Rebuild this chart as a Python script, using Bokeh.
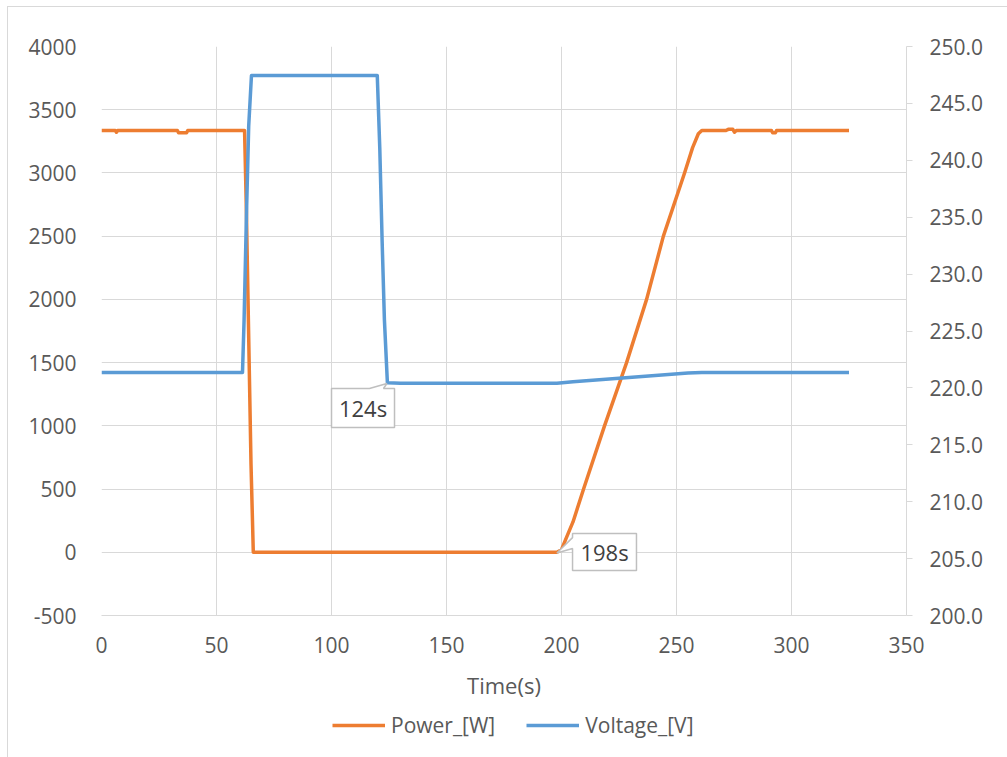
from bokeh.plotting import figure
from bokeh.layouts import column
from bokeh.models import (LinearAxis, Range1d, Legend, LegendItem, FixedTicker,
                          NumeralTickFormatter)
from bokeh.core.properties import value
from bokeh.embed import file_html
from bokeh.resources import INLINE

# ---- data ----
power_t = [0, 6, 6.5, 7, 33, 33.5, 37, 37.5, 62.2, 63, 64, 65, 66, 198, 200, 202, 205,
           209.6, 218.7, 228.3, 237, 244.3, 253.5, 257, 259.5, 261, 271.5, 272.5, 274.5,
           275.2, 276, 291.3, 291.8, 293, 293.5, 325]
power_w = [3336, 3336, 3322, 3336, 3336, 3318, 3318, 3336, 3336, 2700, 1700, 700, 0, 0, 20, 110, 240,
           500, 1000, 1500, 2000, 2500, 3000, 3200, 3310, 3336, 3336, 3345, 3345,
           3322, 3336, 3336, 3318, 3318, 3336, 3336]

volt_t = [0, 61.3, 62, 63, 64, 65.2, 119.9, 121, 122, 123, 124.3, 130, 198, 205, 215,
          225, 235, 245, 255, 261, 325]
volt_v = [221.35, 221.35, 226, 235, 243, 247.45, 247.45, 241, 233, 226, 220.45, 220.4,
          220.4, 220.55, 220.7, 220.85, 221.0, 221.15, 221.3, 221.35, 221.35]

x_ticks = [0, 50, 100, 150, 200, 250, 300, 350]
left_ticks = [-500, 0, 500, 1000, 1500, 2000, 2500, 3000, 3500, 4000]
right_ticks = [200, 205, 210, 215, 220, 225, 230, 235, 240, 245, 250]

series_names = ["Power_[W]", "Voltage_[V]"]

# callouts: label, box (left, right, top, bottom) in data units
callout_labels = ["124s", "198s"]
callout_box_l = [100.0, 204.8]
callout_box_r = [127.4, 232.6]
callout_box_t = [1295, 148]
callout_box_b = [987, -144]

FONT = "Open Sans"
TXT = "#595959"
GRID = "#d9d9d9"
ORANGE = "#ED7D31"
BLUE = "#5B9BD5"

p = figure(width=1000, height=700, output_backend="svg", toolbar_location=None,
           x_range=Range1d(0, 350), y_range=Range1d(-500, 4000),
           min_border_left=93, min_border_right=102, min_border_top=39,
           min_border_bottom=92)
p.outline_line_color = None
p.background_fill_color = "white"
p.border_fill_color = "white"

p.extra_y_ranges = {"v": Range1d(200, 250)}

p.xgrid.ticker = FixedTicker(ticks=x_ticks)
p.ygrid.ticker = FixedTicker(ticks=left_ticks)
p.xgrid.grid_line_color = GRID
p.ygrid.grid_line_color = GRID

# bottom axis
xa = p.xaxis[0]
xa.ticker = FixedTicker(ticks=x_ticks)
xa.axis_line_color = GRID
xa.major_tick_line_color = None
xa.minor_tick_line_color = None
xa.major_label_standoff = 15
xa.axis_label = "Time(s)"
xa.axis_label_standoff = 14
xa.axis_label_text_font = FONT
xa.axis_label_text_font_size = "22px"
xa.axis_label_text_font_style = "normal"
xa.axis_label_text_color = TXT

# left axis
ya = p.yaxis[0]
ya.ticker = FixedTicker(ticks=left_ticks)
ya.formatter = NumeralTickFormatter(format="0")
ya.axis_line_color = None
ya.major_tick_line_color = None
ya.minor_tick_line_color = None
ya.major_label_standoff = 19

# right axis
ra = LinearAxis(y_range_name="v", ticker=FixedTicker(ticks=right_ticks),
                formatter=NumeralTickFormatter(format="0.0"))
ra.axis_line_color = GRID
ra.major_tick_line_color = GRID
ra.major_tick_out = 6
ra.major_tick_in = 0
ra.minor_tick_line_color = None
ra.major_label_standoff = 17
p.add_layout(ra, "right")

for ax in (xa, ya, ra):
    ax.major_label_text_font = FONT
    ax.major_label_text_font_size = "21px"
    ax.major_label_text_color = TXT

p.line(power_t, power_w, line_color=ORANGE, line_width=3.5, line_join="round")
p.line(volt_t, volt_v, line_color=BLUE, line_width=3.5, line_join="round",
       y_range_name="v")

# callouts
c1x = [callout_box_l[0], 116.5, volt_t[10] - 0.2, 122.6, callout_box_r[0], callout_box_r[0], callout_box_l[0]]
c1y = [callout_box_t[0], callout_box_t[0], 1335, callout_box_t[0], callout_box_t[0], callout_box_b[0], callout_box_b[0]]
c2x = [callout_box_l[1], callout_box_r[1], callout_box_r[1], callout_box_l[1], callout_box_l[1], power_t[13], callout_box_l[1]]
c2y = [callout_box_t[1], callout_box_t[1], callout_box_b[1], callout_box_b[1], 30, -6, 116]
p.patches([c1x, c2x], [c1y, c2y], fill_color="white", line_color="#bfbfbf", line_width=1.5)
p.text(x=[(l + r) / 2 for l, r in zip(callout_box_l, callout_box_r)],
       y=[(t + b) / 2 for t, b in zip(callout_box_t, callout_box_b)],
       text=callout_labels, text_align="center", text_baseline="middle",
       text_font=value(FONT), text_font_size="22px", text_color="#404040")

# legend strip below the chart (no axes, frame spans the whole strip)
lg = figure(width=1000, height=51, output_backend="svg", toolbar_location=None,
            x_range=Range1d(0, 1), y_range=Range1d(0, 1),
            x_axis_location=None, y_axis_location=None,
            min_border=0, min_border_left=0, min_border_right=0,
            min_border_top=0, min_border_bottom=0)
lg.grid.visible = False
lg.outline_line_color = None
lg.border_fill_color = "white"
lg.background_fill_color = "white"
# legend-only proxies, kept outside the strip's visible range
r1 = lg.line([-2, -1], [-2, -1], line_color=ORANGE, line_width=3.5)
r2 = lg.line([-2, -1], [-2, -1], line_color=BLUE, line_width=3.5)
legend = Legend(items=[LegendItem(label=series_names[0], renderers=[r1]),
                       LegendItem(label=series_names[1], renderers=[r2])],
                orientation="horizontal", location=(231, 19))
legend.padding = 0
legend.margin = 0
legend.spacing = 31
legend.glyph_width = 53
legend.glyph_height = 24
legend.label_standoff = 6
legend.border_line_color = None
legend.background_fill_alpha = 0
legend.label_text_font = FONT
legend.label_text_font_size = "21px"
legend.label_text_color = TXT
lg.add_layout(legend, "center")

page = column(p, lg, spacing=0)
page.margin = (6, 0, 0, 7)
page.styles = {"border-top": "1px solid #d9d9d9", "border-left": "1px solid #d9d9d9"}

open("out.html", "w").write(file_html(page, INLINE))
